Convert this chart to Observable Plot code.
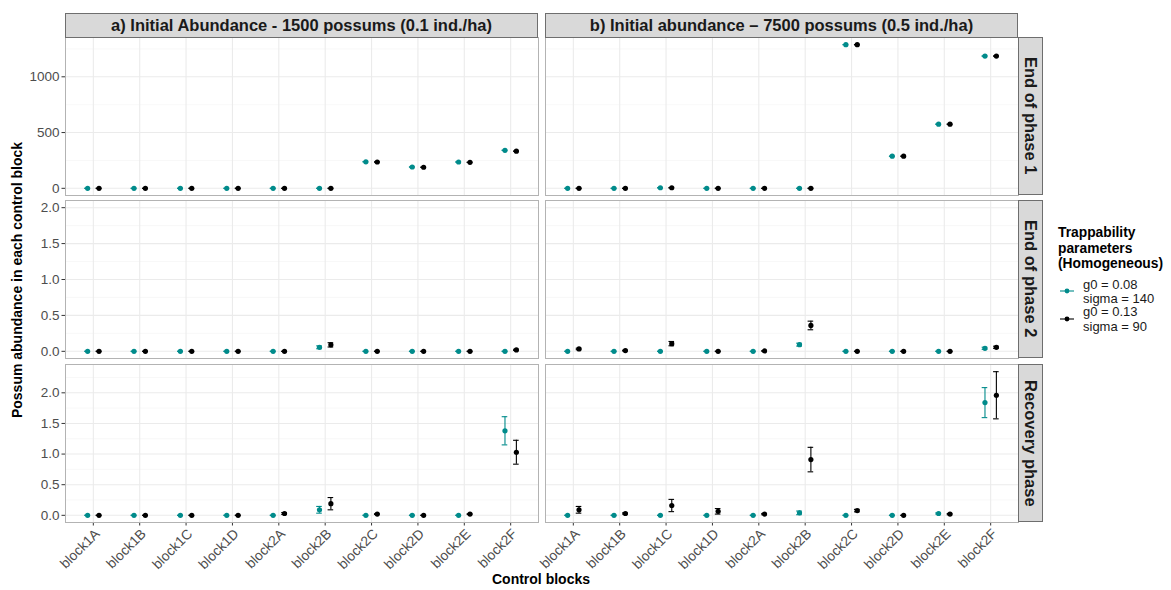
<!DOCTYPE html>
<html><head><meta charset="utf-8">
<script src="https://cdn.jsdelivr.net/npm/d3@7"></script>
<script src="https://cdn.jsdelivr.net/npm/@observablehq/plot@0.6"></script>
<style>
body{margin:0;background:#fff;font-family:"Liberation Sans",Arial,sans-serif;}
#chart{position:relative;width:1171px;height:590px;overflow:hidden;background:#fff}
#chart svg{position:absolute;overflow:visible}
.strip{position:absolute;background:#d9d9d9;border:1px solid #6e6e6e;box-sizing:border-box;display:flex;align-items:center;justify-content:center;font-weight:bold;font-size:16.5px;color:#1a1a1a;white-space:nowrap}
.vstrip span{writing-mode:vertical-rl}
</style></head>
<body><div id="chart"></div>
<script>
// ---------- data ----------
const blocks = ["block1A","block1B","block1C","block1D","block2A","block2B","block2C","block2D","block2E","block2F"];
const panelLabels = ["a) Initial Abundance - 1500 possums (0.1 ind./ha)", "b) Initial abundance \u2013 7500 possums (0.5 ind./ha)"];
const phaseLabels = ["End of phase 1", "End of phase 2", "Recovery phase"];
const seriesLabels = [["g0 = 0.08", "sigma = 140"], ["g0 = 0.13", "sigma = 90"]];
const seriesColors = ["#008b8b", "#000000"];
const legendTitle = ["Trappability", "parameters", "(Homogeneous)"];
const yTitle = "Possum abundance in each control block";
const xTitle = "Control blocks";

// End of phase 1 (means; error half-widths are negligible)
const p1a_g008 = [0,0,0,0,0,0,238,191,236,341];
const p1a_g013 = [0,0,0,0,0,0,236,189,233,333];
const p1b_g008 = [0,0,5,0,0,0,1288,288,575,1186];
const p1b_g013 = [0,0,5,0,0,0,1288,288,575,1186];
const p1_err   = [0,0,0,0,0,0,0,0,0,0];

// End of phase 2
const p2a_g008 = [0,0,0,0,0,0.056,0,0,0,0];
const p2a_g008_err = [0,0,0,0,0,0.02,0,0,0,0];
const p2a_g013 = [0,0,0,0,0,0.09,0,0,0,0.02];
const p2a_g013_err = [0,0,0,0,0,0.03,0,0,0,0.008];
const p2b_g008 = [0,0,0,0,0,0.093,0,0,0,0.042];
const p2b_g008_err = [0,0,0,0,0,0.02,0,0,0,0.015];
const p2b_g013 = [0.033,0.01,0.107,0,0.005,0.36,0,0,0,0.056];
const p2b_g013_err = [0.01,0.005,0.03,0,0.003,0.06,0,0,0,0.015];

// Recovery phase
const p3a_g008 = [0,0,0,0,0,0.09,0,0,0,1.38];
const p3a_g008_err = [0,0,0,0,0,0.055,0,0,0,0.23];
const p3a_g013 = [0,0,0,0,0.03,0.19,0.02,0,0.02,1.03];
const p3a_g013_err = [0,0,0,0,0.015,0.1,0.005,0,0.005,0.195];
const p3b_g008 = [0,0,0,0,0,0.04,0,0,0.03,1.84];
const p3b_g008_err = [0,0,0,0,0,0.03,0,0,0.01,0.245];
const p3b_g013 = [0.09,0.03,0.16,0.065,0.02,0.91,0.077,0,0.02,1.96];
const p3b_g013_err = [0.055,0.01,0.1,0.045,0.01,0.2,0.02,0,0.01,0.385];

// y axis ticks per row
const ticks1 = [0,500,1000], minor1 = [250,750,1250];
const ticks2 = [0,0.5,1,1.5,2], minor2 = [0.25,0.75,1.25,1.75];
const ticks3 = [0,0.5,1,1.5,2], minor3 = [0.25,0.75,1.25,1.75,2.25];

// ---------- build ----------
const panelData = [
  [[[p1a_g008,p1_err],[p1a_g013,p1_err]], [[p1b_g008,p1_err],[p1b_g013,p1_err]]],
  [[[p2a_g008,p2a_g008_err],[p2a_g013,p2a_g013_err]], [[p2b_g008,p2b_g008_err],[p2b_g013,p2b_g013_err]]],
  [[[p3a_g008,p3a_g008_err],[p3a_g013,p3a_g013_err]], [[p3b_g008,p3b_g008_err],[p3b_g013,p3b_g013_err]]]
];
const rowCfg = [
  {ticks: ticks1, minor: minor1, fmt: d3.format("d")},
  {ticks: ticks2, minor: minor2, fmt: d3.format(".1f"), fixed: [0, 2]},
  {ticks: ticks3, minor: minor3, fmt: d3.format(".1f")}
];
// y domains: data range over both panels with 5% expansion (ggplot style)
rowCfg.forEach((cfg, r) => {
  let lo = 0, hi = 0;
  if (cfg.fixed) { [lo, hi] = cfg.fixed; }
  else panelData[r].forEach(p => p.forEach(([v, e]) => v.forEach((x, i) => { lo = Math.min(lo, x - e[i]); hi = Math.max(hi, x + e[i]); })));
  const pad = (hi - lo) * 0.05;
  cfg.domain = [lo - pad, hi + pad];
});

const PX = [65, 545], PY = [37, 200, 364], PW = 473, PH = 158;
const chart = document.getElementById("chart");
const font = "Liberation Sans, Arial, sans-serif";
const dodge = 5.7;
const bw = PW / 10.2;
const capInset = (bw - 5.6) / 2;

for (let r = 0; r < 3; r++) {
  for (let c = 0; c < 2; c++) {
    const showY = c === 0, showX = r === 2;
    const mL = showY ? 66 : 1, mR = 1, mT = 1, mB = showX ? 80 : 1;
    const cfg = rowCfg[r];
    const marks = [
      Plot.gridY(cfg.minor, {stroke: "#f3f3f3", strokeOpacity: 1, strokeWidth: 0.6}),
      Plot.gridY(cfg.ticks, {stroke: "#ebebeb", strokeOpacity: 1, strokeWidth: 1.1}),
      Plot.gridX({stroke: "#ebebeb", strokeOpacity: 1, strokeWidth: 1.1})
    ];
    panelData[r][c].forEach(([vals, errs], s) => {
      const ds = blocks.map((b, i) => ({block: b, value: vals[i], lo: vals[i] - errs[i], hi: vals[i] + errs[i]}));
      const dx = s === 0 ? -dodge : dodge;
      const col = seriesColors[s];
      marks.push(
        Plot.ruleX(ds, {x: "block", y1: "lo", y2: "hi", dx, stroke: col, strokeWidth: 1.1}),
        Plot.tickY(ds, {x: "block", y: "lo", dx, stroke: col, strokeWidth: 1.1, insetLeft: capInset, insetRight: capInset}),
        Plot.tickY(ds, {x: "block", y: "hi", dx, stroke: col, strokeWidth: 1.1, insetLeft: capInset, insetRight: capInset}),
        Plot.dot(ds, {x: "block", y: "value", dx, r: 2.6, fill: col, stroke: "none"})
      );
    });
    if (showY) marks.push(Plot.axisY(cfg.ticks, {tickFormat: cfg.fmt, tickSize: 3.5, tickPadding: 2.5, fontSize: 13.5, fill: "#4d4d4d", stroke: "#333", label: null}));
    if (showX) {
      marks.push(Plot.axisX({tickRotate: -45, tickSize: 3.5, text: null, stroke: "#333", label: null}));
      marks.push(Plot.axisX({tickRotate: -45, tickSize: 0, tickPadding: 2, dx: 4, dy: 7, fontSize: 13.8, fill: "#4d4d4d", stroke: "none", label: null}));
    }
    marks.push(Plot.frame({stroke: "#b3b3b3"}));
    const svg = Plot.plot({
      width: PW + mL + mR, height: PH + mT + mB,
      marginLeft: mL, marginRight: mR, marginTop: mT, marginBottom: mB,
      style: {fontFamily: font, fontSize: "13px", background: "transparent", overflow: "visible"},
      x: {type: "band", domain: blocks, paddingInner: 0, paddingOuter: 0.1, round: false, axis: showX ? undefined : null},
      y: {domain: cfg.domain, axis: showY ? undefined : null},
      marks
    });
    svg.style.left = (PX[c] - mL) + "px";
    svg.style.top = (PY[r] - mT) + "px";
    chart.appendChild(svg);
  }
}

// strips
panelLabels.forEach((t, c) => {
  const d = document.createElement("div");
  d.className = "strip";
  Object.assign(d.style, {left: PX[c] + "px", top: "13px", width: PW + "px", height: "25px"});
  d.textContent = t;
  chart.appendChild(d);
});
phaseLabels.forEach((t, r) => {
  const d = document.createElement("div");
  d.className = "strip vstrip";
  Object.assign(d.style, {left: "1018px", top: PY[r] + "px", width: "25px", height: PH + "px"});
  const sp = document.createElement("span");
  sp.textContent = t;
  d.appendChild(sp);
  chart.appendChild(d);
});

// titles + legend overlay
const ov = d3.create("svg").attr("width", 1171).attr("height", 590)
  .style("left", "0px").style("top", "0px").style("font-family", font);
ov.append("text").attr("transform", "translate(22,280) rotate(-90)").attr("text-anchor", "middle")
  .attr("font-size", 14).attr("font-weight", "bold").attr("fill", "#000").text(yTitle);
ov.append("text").attr("x", 541).attr("y", 584).attr("text-anchor", "middle")
  .attr("font-size", 14).attr("font-weight", "bold").attr("fill", "#000").text(xTitle);
legendTitle.forEach((t, i) => ov.append("text").attr("x", 1058).attr("y", 237 + i * 15.5)
  .attr("font-size", 13.8).attr("font-weight", "bold").attr("fill", "#000").text(t));
const keyY = [291, 319];
seriesLabels.forEach((lines, s) => {
  const cy = keyY[s];
  ov.append("line").attr("x1", 1060).attr("x2", 1074).attr("y1", cy).attr("y2", cy)
    .attr("stroke", seriesColors[s]).attr("stroke-width", 1.1);
  ov.append("circle").attr("cx", 1067).attr("cy", cy).attr("r", 2.4).attr("fill", seriesColors[s]);
});
// all legend labels in one text block (tight line spacing as in the reference)
const lt = ov.append("text").attr("font-size", 13).attr("fill", "#1a1a1a");
const labelBaselines = [[289, 303], [316, 331]];
seriesLabels.forEach((lines, s) => lines.forEach((t, j) =>
  lt.append("tspan").attr("x", 1083).attr("y", labelBaselines[s][j]).text(t)));
chart.appendChild(ov.node());
</script>
</body></html>
